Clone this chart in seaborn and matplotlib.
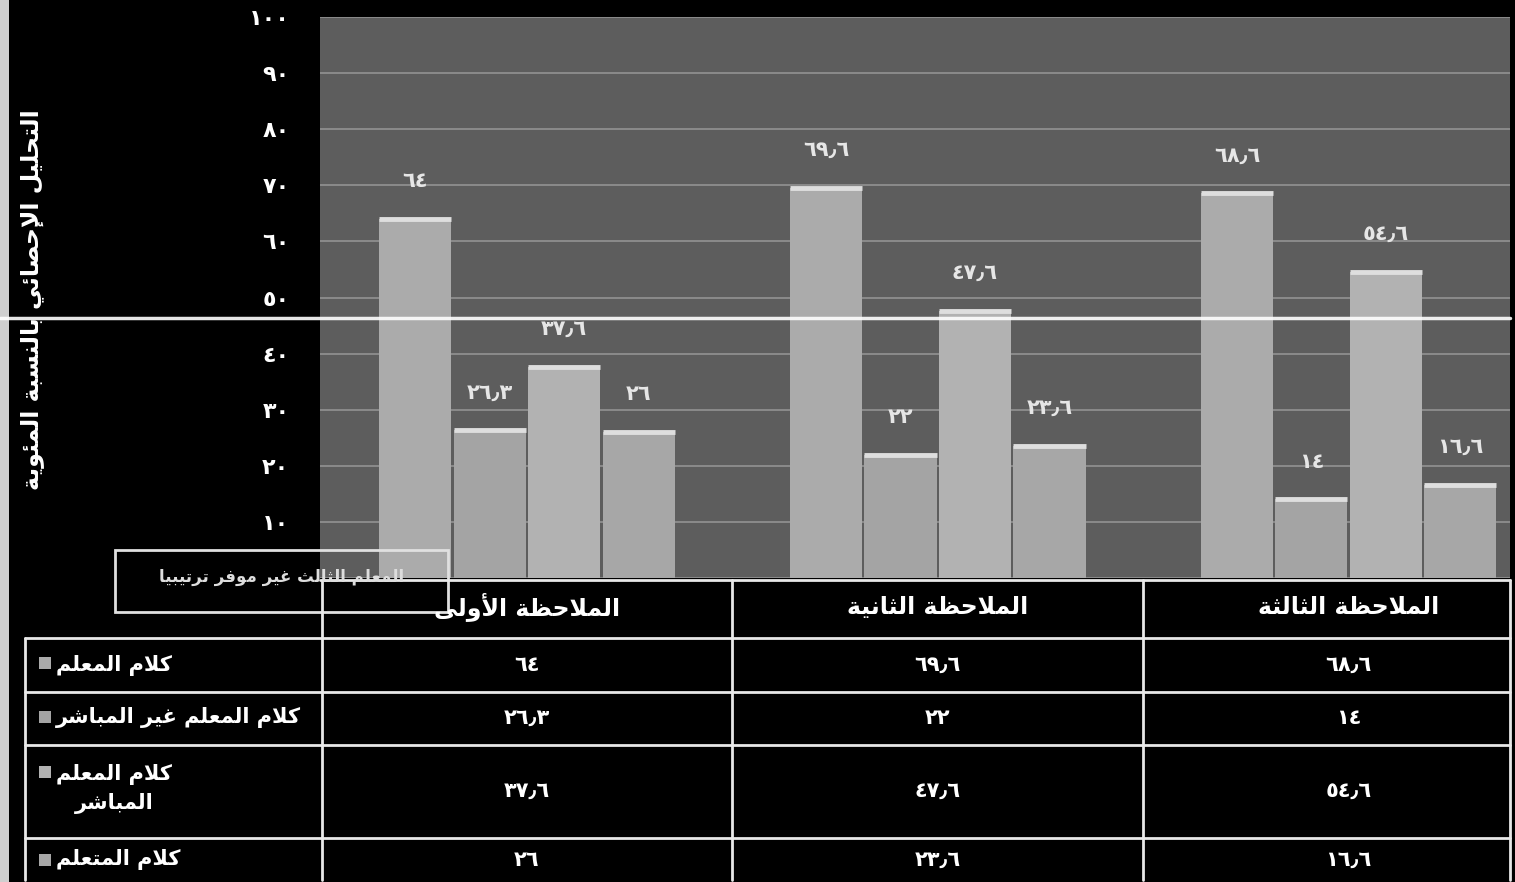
import numpy as np
import pandas as pd
import matplotlib
matplotlib.use("Agg")
import matplotlib.pyplot as plt
import matplotlib.transforms as mtransforms
from matplotlib.lines import Line2D
from matplotlib.patches import Rectangle
import seaborn as sns

# ---------------------------------------------------------------- data
groups = ["الملاحظة الأولى", "الملاحظة الثانية", "الملاحظة الثالثة"]
series = ["كلام المعلم", "كلام المعلم غير المباشر", "كلام المعلم المباشر", "كلام المتعلم"]
teacher_talk = [64, 69.6, 68.6]
indirect_talk = [26.3, 22, 14]
direct_talk = [37.6, 47.6, 54.6]
learner_talk = [26, 23.6, 16.6]
y_ticks = [0, 10, 20, 30, 40, 50, 60, 70, 80, 90, 100]
y_title = "التحليل الإحصائي بالنسبة المئوية"
note_text = "المعلم الثالث غير موفر ترتيبيا"

# ---------------------------------------------------------------- arabic shaping
_RIGHT = {'آ': 0xFE81, 'أ': 0xFE83, 'ؤ': 0xFE85, 'إ': 0xFE87, 'ا': 0xFE8D, 'ة': 0xFE93,
          'د': 0xFEA9, 'ذ': 0xFEAB, 'ر': 0xFEAD, 'ز': 0xFEAF, 'و': 0xFEED, 'ى': 0xFEEF}
_DUAL = {'ئ': 0xFE89, 'ب': 0xFE8F, 'ت': 0xFE95, 'ث': 0xFE99, 'ج': 0xFE9D, 'ح': 0xFEA1,
         'خ': 0xFEA5, 'س': 0xFEB1, 'ش': 0xFEB5, 'ص': 0xFEB9, 'ض': 0xFEBD, 'ط': 0xFEC1,
         'ظ': 0xFEC5, 'ع': 0xFEC9, 'غ': 0xFECD, 'ف': 0xFED1, 'ق': 0xFED5, 'ك': 0xFED9,
         'ل': 0xFEDD, 'م': 0xFEE1, 'ن': 0xFEE5, 'ه': 0xFEE9, 'ي': 0xFEF1}
_LAM_ALEF = {'آ': 0xFEF5, 'أ': 0xFEF7, 'إ': 0xFEF9, 'ا': 0xFEFB}


def _shape_line(text):
    toks = []
    i = 0
    while i < len(text):
        c = text[i]
        if c == 'ل' and i + 1 < len(text) and text[i + 1] in _LAM_ALEF:
            toks.append((_LAM_ALEF[text[i + 1]], False))
            i += 2
            continue
        if c in _DUAL:
            toks.append((_DUAL[c], True))
        elif c in _RIGHT:
            toks.append((_RIGHT[c], False))
        else:
            toks.append(c)
        i += 1
    out = []
    for k, t in enumerate(toks):
        if isinstance(t, str):
            out.append(t)
            continue
        base, dual = t
        prev = toks[k - 1] if k > 0 else None
        nxt = toks[k + 1] if k + 1 < len(toks) else None
        jp = isinstance(prev, tuple) and prev[1]
        jn = dual and isinstance(nxt, tuple)
        if jp and jn:
            cp = base + 3
        elif jp:
            cp = base + 1
        elif jn:
            cp = base + 2
        else:
            cp = base
        out.append(chr(cp))
    return ''.join(reversed(out))


def ar(text):
    return "\n".join(_shape_line(line) for line in text.split("\n"))


_DIGITS = str.maketrans("0123456789.", "٠١٢٣٤٥٦٧٨٩٫")


def ar_num(v):
    return f"{v:g}".translate(_DIGITS)


# ---------------------------------------------------------------- frame
W, H = 1515, 882
sns.set_theme(style="dark")
plt.rcParams["font.family"] = ["DejaVu Sans"]

fig = plt.figure(figsize=(W / 100, H / 100), dpi=100)
fig.patch.set_facecolor("black")


def fx(px):
    return px / W


def fy(py):
    return 1 - py / H


ax = fig.add_axes([fx(320), fy(578), fx(1510) - fx(320), fy(17) - fy(578)])
ax.set_facecolor("#5d5d5d")

values = [teacher_talk, indirect_talk, direct_talk, learner_talk]
df = pd.DataFrame({
    "group": np.repeat(groups, len(series)),
    "series": series * len(groups),
    "value": [values[s][g] for g in range(len(groups)) for s in range(len(series))],
})

palette = ["#ababab", "#a4a4a4", "#b2b2b2", "#a7a7a7"]
sns.barplot(data=df, x="group", y="value", hue="series", order=groups,
            hue_order=series, palette=palette, width=0.725, gap=0.03,
            saturation=1, edgecolor="none", legend=False, ax=ax, zorder=3)

ax.set_xlim(-0.504, 2.393)
ax.set_ylim(0, 100)
ax.set_yticks(y_ticks)
ax.set_yticklabels([""] + [ar_num(t) for t in y_ticks[1:]], color="white",
                   fontsize=16, fontweight="bold")
ax.tick_params(axis="y", length=0, pad=22)
ax.set_xticks([])
ax.set_xlabel("")
ax.set_ylabel("")
ax.grid(axis="y", color="#8e8e8e", linewidth=1.3, zorder=0)
ax.grid(axis="x", visible=False)
for sp in ax.spines.values():
    sp.set_visible(False)

# bar caps and value labels
for cont, vals in zip(ax.containers, values):
    for rect in cont:
        x0, w, top = rect.get_x(), rect.get_width(), rect.get_height()
        ax.plot([x0, x0 + w], [top, top], color="#dedede", lw=3.5,
                solid_capstyle="butt", zorder=4)
    ax.bar_label(cont, labels=[ar_num(v) for v in vals], padding=20,
                 color="#e6e6e6", fontsize=15, fontweight="bold")

# ---------------------------------------------------------------- titles
fig.text(fx(32), fy(300), ar(y_title), rotation=90, ha="center", va="center",
         color="white", fontsize=17, fontweight="bold")

# ---------------------------------------------------------------- data table
line_kw = dict(color="#e8e8e8", linewidth=2)
for y0 in [638, 692, 745, 838]:
    fig.add_artist(Line2D([fx(25), fx(1510)], [fy(y0), fy(y0)], **line_kw))
fig.add_artist(Line2D([fx(320), fx(1510)], [fy(580), fy(580)], **line_kw))
fig.add_artist(Line2D([fx(25), fx(25)], [fy(638), fy(880)], **line_kw))
for xv in [322, 1510]:
    fig.add_artist(Line2D([fx(xv), fx(xv)], [fy(580), fy(880)], **line_kw))

tr = mtransforms.blended_transform_factory(ax.transData, fig.transFigure)
for xd in [0.5, 1.5]:
    fig.add_artist(Line2D([xd, xd], [fy(580), fy(880)], transform=tr, **line_kw))

for gi, g in enumerate(groups):
    fig.text(gi, fy(607), ar(g), transform=tr, ha="center", va="center",
             color="white", fontsize=17, fontweight="bold")

row_centres = [665, 718, 791, 860]
row_text_y = [665, 718, 789, 860]
row_labels = ["كلام المعلم", "كلام المعلم غير المباشر", "كلام المعلم\nالمباشر", "كلام المتعلم"]
swatch_y = [663, 717, 772, 860]
for si in range(len(series)):
    for gi in range(len(groups)):
        fig.text(gi, fy(row_centres[si]), ar_num(values[si][gi]), transform=tr,
                 ha="center", va="center", color="white", fontsize=15,
                 fontweight="bold")
    fig.text(fx(56), fy(row_text_y[si]), ar(row_labels[si]), ha="left",
             va="center", multialignment="center", color="white", fontsize=15,
             fontweight="bold", linespacing=1.5)
    fig.add_artist(Rectangle((fx(39), fy(swatch_y[si] + 6)), fx(12), 12 / H,
                             facecolor=palette[si], edgecolor="none"))

# note box
fig.add_artist(Rectangle((fx(115), fy(612)), fx(448) - fx(115), (612 - 550) / H,
                         facecolor="none", edgecolor="#e0e0e0", linewidth=2))
fig.text(fx(282), fy(577), ar(note_text), ha="center", va="center",
         color="#dddddd", fontsize=12, fontweight="bold")

# scanner streak across the page
fig.add_artist(Line2D([0, fx(1510)], [fy(318), fy(318)], color="white",
                      linewidth=2.5, alpha=0.9))
fig.add_artist(Rectangle((0, 0), fx(9), 1, facecolor="#cfcfcf", edgecolor="none"))

fig.savefig("out.png", dpi=100, facecolor=fig.get_facecolor())
